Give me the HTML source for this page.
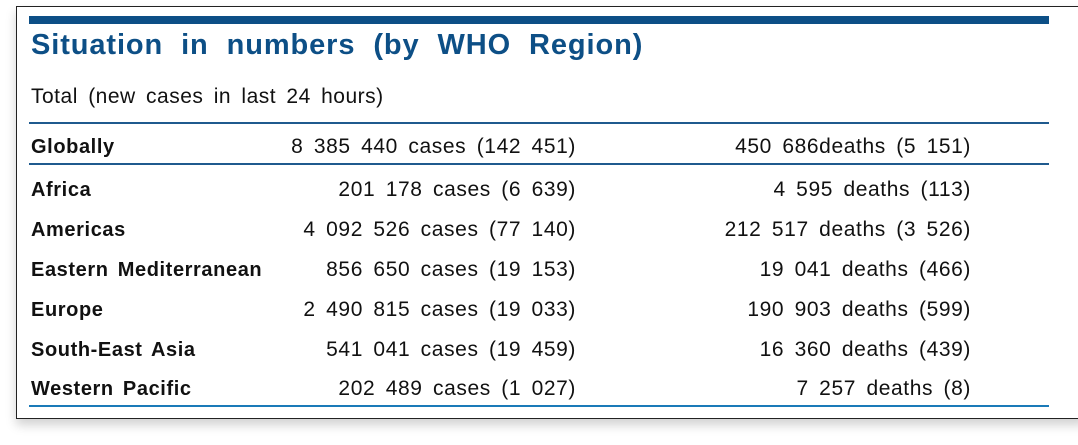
<!DOCTYPE html>
<html><head><meta charset="utf-8"><style>
body{margin:0;width:1078px;height:445px;background:#fff;position:relative;overflow:hidden;font-family:"Liberation Sans",Arial,sans-serif;}
#frame{position:absolute;left:16px;top:6px;width:1068px;height:411px;border:1px solid #222;box-shadow:0 6px 10px rgba(0,0,0,0.18);background:#fff;}
.abs{position:absolute;white-space:nowrap;}
.topbar{left:29px;top:16px;width:1020px;height:8px;background:#0d4f86;}
.title{left:31px;top:29px;font-size:29px;font-weight:bold;color:#0d4f86;letter-spacing:0.9px;word-spacing:9px;}
.sub{left:31px;top:85px;font-size:21px;color:#111;letter-spacing:0.5px;word-spacing:4px;}
.hl{left:29px;width:1020px;height:2px;background:#1f5a8e;}
.name{left:31px;font-size:20px;font-weight:bold;color:#111;letter-spacing:0.6px;word-spacing:3px;}
.cases{right:502px;font-size:21px;color:#111;text-align:right;letter-spacing:0.6px;word-spacing:4px;}
.deaths{right:107px;font-size:21px;color:#111;text-align:right;letter-spacing:0.6px;word-spacing:4px;}
</style></head><body>
<div id="frame"></div>
<div class="abs topbar"></div>
<div class="abs title">Situation in numbers (by WHO Region)</div>
<div class="abs sub">Total (new cases in last 24 hours)</div>
<div class="abs hl" style="top:122px"></div>
<div class="abs hl" style="top:163px"></div>
<div class="abs hl" style="top:405px;background:#1a7ab8"></div>
<script>
const regions=["Globally","Africa","Americas","Eastern Mediterranean","Europe","South-East Asia","Western Pacific"];
const cases=["8 385 440 cases (142 451)","201 178 cases (6 639)","4 092 526 cases (77 140)","856 650 cases (19 153)","2 490 815 cases (19 033)","541 041 cases (19 459)","202 489 cases (1 027)"];
const deaths=["450 686deaths (5 151)","4 595 deaths (113)","212 517 deaths (3 526)","19 041 deaths (466)","190 903 deaths (599)","16 360 deaths (439)","7 257 deaths (8)"];
const tops=[136,179,219,259,299,339,378];
regions.forEach((r,i)=>{
  const n=document.createElement('div');n.className='abs name';n.style.top=tops[i]+'px';n.textContent=r;
  
  
  const c=document.createElement('div');c.className='abs cases';c.style.top=(tops[i]-1)+'px';c.textContent=cases[i];
  
  
  const d=document.createElement('div');d.className='abs deaths';d.style.top=(tops[i]-1)+'px';d.textContent=deaths[i];
  
  
  document.body.append(n,c,d);
});
</script>
</body></html>
